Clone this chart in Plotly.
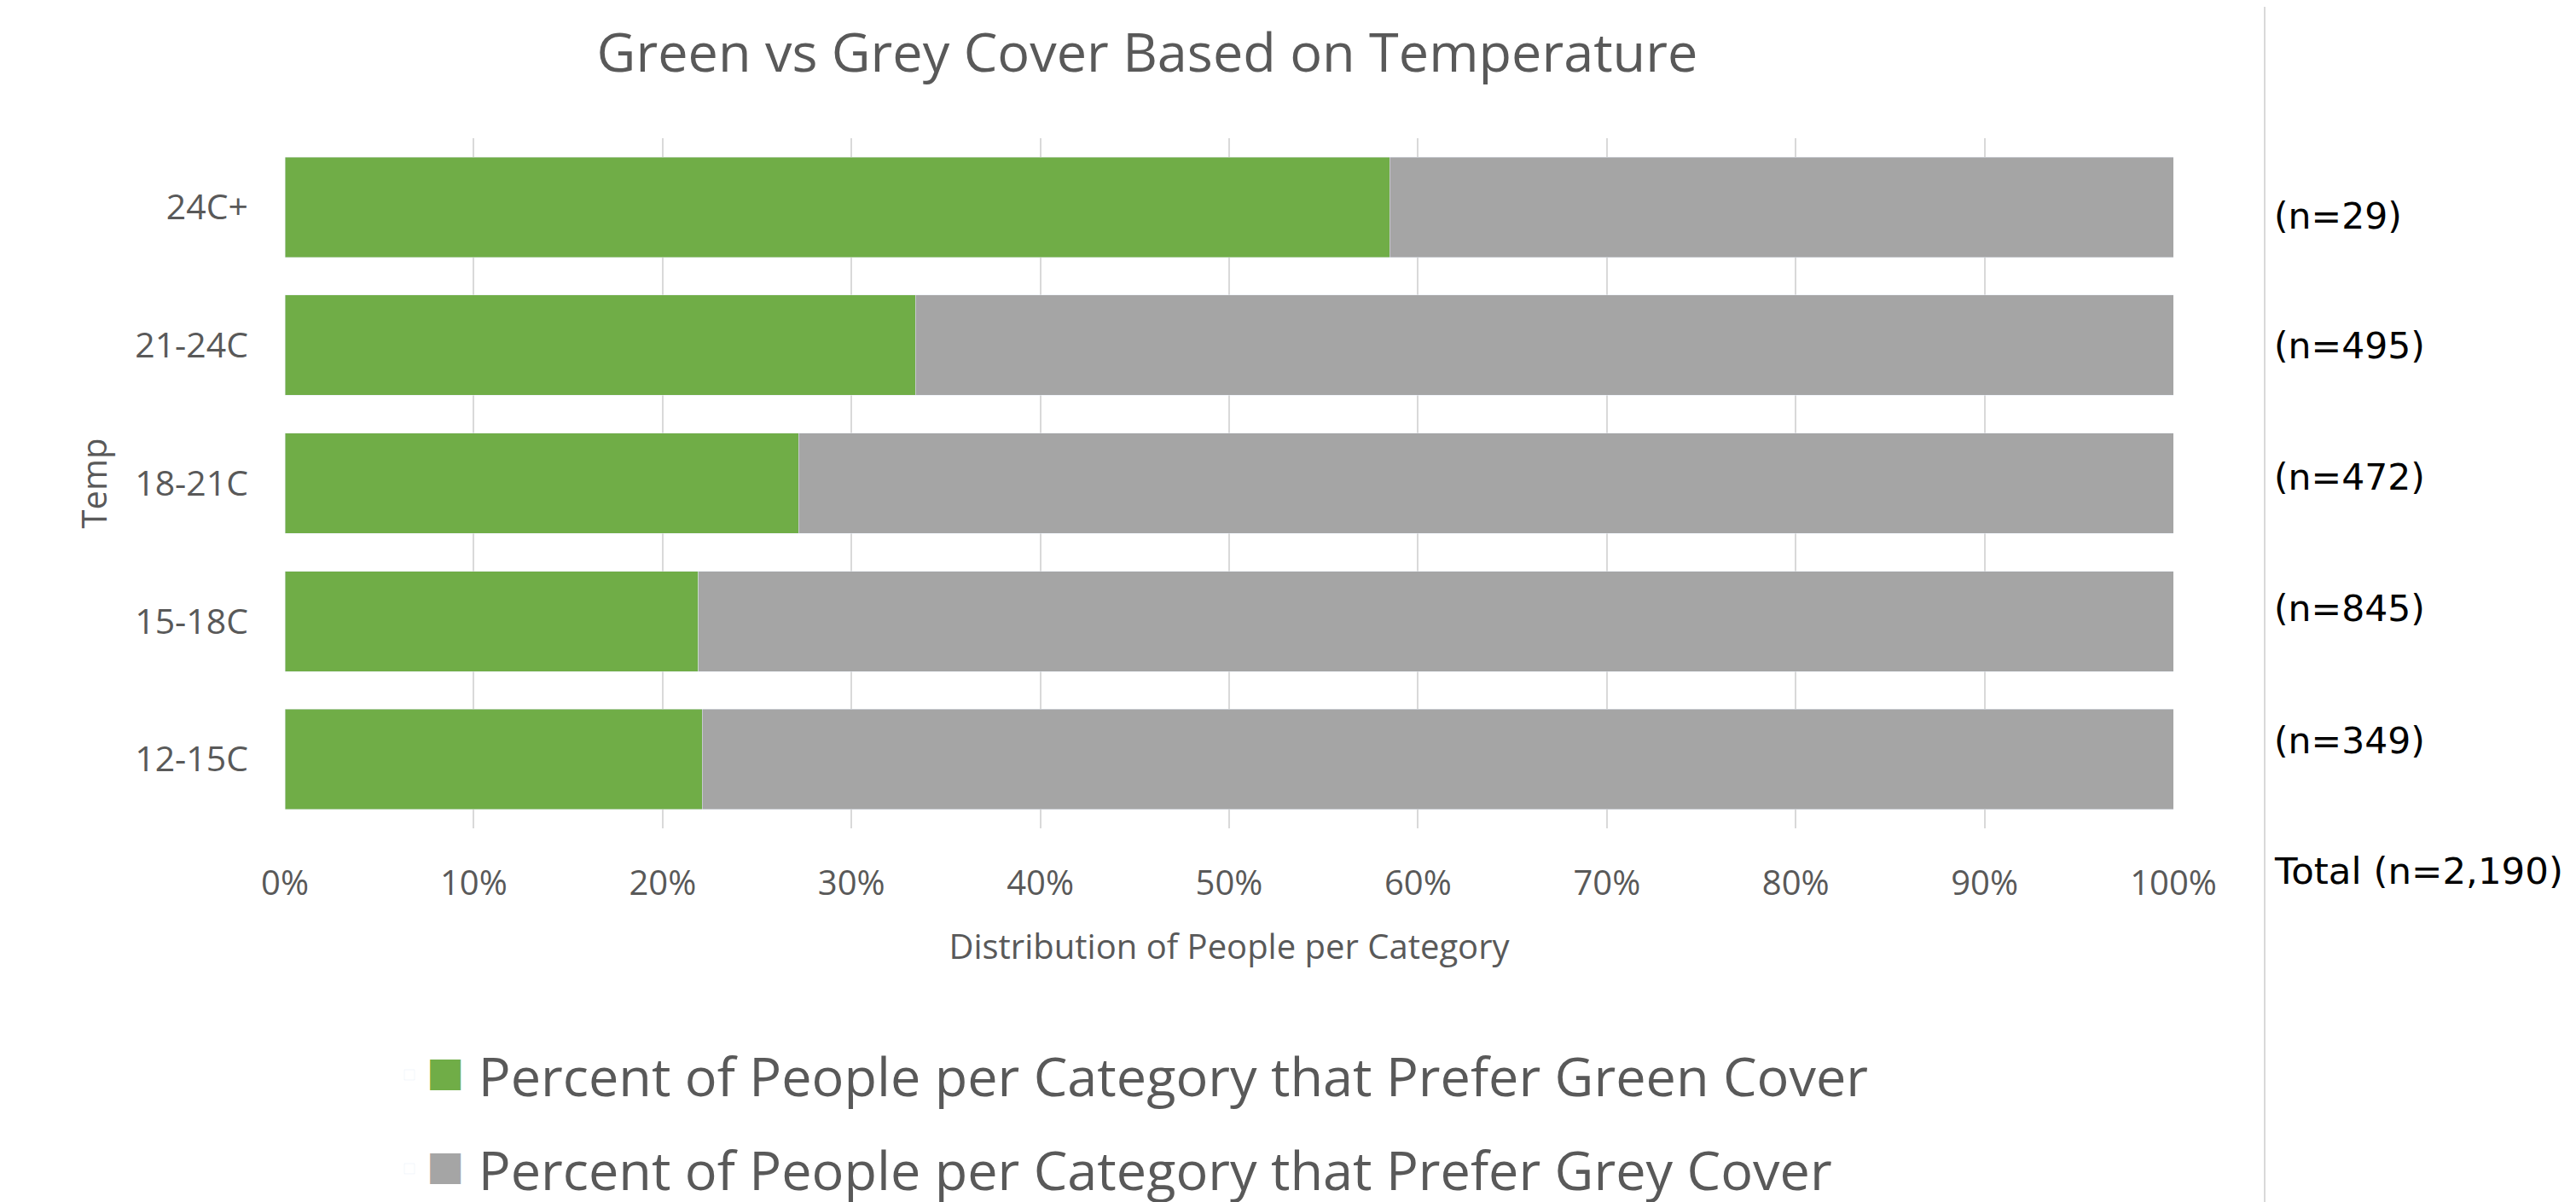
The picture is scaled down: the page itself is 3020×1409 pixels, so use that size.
import plotly.graph_objects as go

# ---- data ----
categories = ["12-15C", "15-18C", "18-21C", "21-24C", "24C+"]
green_pct = [22.1, 21.9, 27.2, 33.4, 58.5]
grey_pct = [77.9, 78.1, 72.8, 66.6, 41.5]
n_labels = ["(n=349)", "(n=845)", "(n=472)", "(n=495)", "(n=29)"]
total_label = "Total (n=2,190)"
green_name = "Percent of People per Category that Prefer Green Cover"
grey_name = "Percent of People per Category that Prefer Grey Cover"
x_tickvals = [0, 10, 20, 30, 40, 50, 60, 70, 80, 90, 100]
x_ticktext = ["0%", "10%", "20%", "30%", "40%", "50%", "60%", "70%", "80%", "90%", "100%"]

# page is offset by the 8px body margin; work in page px and convert
OFF = 8
PAGE_W, PAGE_H = 3020, 1409
W, H = PAGE_W - OFF, PAGE_H - OFF
L, R, T, B = 334 - OFF, 2548 - OFF, 162 - OFF, 971 - OFF  # plot area (fig px)
pw, ph = R - L, B - T

def px_x(x_page):
    return (x_page - OFF - L) / pw

def px_y(y_page):
    return (B - (y_page - OFF)) / ph

GREEN = "#70AD47"
GREY = "#A5A5A5"
TXT = "#595959"
FONT = "Open Sans"

fig = go.Figure()
fig.add_trace(go.Bar(
    y=categories, x=green_pct, orientation="h", name=green_name,
    marker=dict(color=GREEN), showlegend=False,
))
fig.add_trace(go.Bar(
    y=categories, x=grey_pct, orientation="h", name=grey_name,
    marker=dict(color=GREY), showlegend=False,
))
# legend entries with large square swatches
for nm, col, lg in [(green_name, GREEN, "legend"), (grey_name, GREY, "legend2")]:
    fig.add_trace(go.Bar(
        y=[None], x=[None], orientation="h",
        name=('<span style="font-family:DejaVu Sans;font-size:47px;'
              'baseline-shift:13px;color:%s">■</span> %s') % (col, nm),
        marker=dict(color="rgba(0,0,0,0)"), showlegend=True, legend=lg,
        hoverinfo="skip",
    ))

label_y_page = [868, 713, 559, 405, 253]
annotations = []
for lab, ypg in zip(n_labels, label_y_page):
    annotations.append(dict(
        text=lab, xref="paper", yref="paper", x=px_x(2664), y=px_y(ypg),
        xanchor="left", yanchor="middle", showarrow=False,
        font=dict(family="DejaVu Sans", size=42.5, color="#000000"),
    ))
annotations.append(dict(
    text=total_label, xref="paper", yref="paper", x=px_x(2664), y=px_y(1021),
    xanchor="left", yanchor="middle", showarrow=False,
    font=dict(family="DejaVu Sans", size=43.5, color="#000000"),
))

shapes = [
    # vertical separator
    dict(type="line", xref="paper", yref="paper",
         x0=px_x(2655), x1=px_x(2655), y0=px_y(PAGE_H + 20), y1=px_y(8),
         line=dict(color="#D9D9D9", width=2)),
]

fig.update_layout(
    width=W, height=H,
    margin=dict(l=L, r=W - R, t=T, b=H - B, pad=0, autoexpand=False),
    paper_bgcolor="white",
    plot_bgcolor="white",
    barmode="stack",
    bargap=0.274,
    showlegend=True,
    title=dict(
        text="Green vs Grey Cover Based on Temperature",
        x=px_x(1345), xref="paper", xanchor="center",
        y=1 - (62 - OFF) / H, yref="container", yanchor="middle",
        font=dict(family=FONT, size=63, color=TXT),
    ),
    xaxis=dict(
        range=[0, 100], tickmode="array", tickvals=x_tickvals, ticktext=x_ticktext,
        showgrid=True, gridcolor="#D9D9D9", gridwidth=2,
        zeroline=False, showline=False, ticks="",
        ticklabelstandoff=37,
        tickfont=dict(family=FONT, size=40, color=TXT),
        title=dict(text="Distribution of People per Category",
                   font=dict(family=FONT, size=40, color=TXT), standoff=35),
    ),
    yaxis=dict(
        categoryorder="array", categoryarray=categories,
        showgrid=False, zeroline=False, showline=False, ticks="",
        ticklabelstandoff=42,
        tickfont=dict(family=FONT, size=41, color=TXT),
        title=dict(text="Temp", font=dict(family=FONT, size=40, color=TXT), standoff=20),
    ),
    legend=dict(
        x=px_x(460), y=px_y(1260), xanchor="left", yanchor="middle",
        xref="paper", yref="paper", bgcolor="rgba(0,0,0,0)",
        font=dict(family=FONT, size=63, color=TXT),
    ),
    legend2=dict(
        x=px_x(460), y=px_y(1370), xanchor="left", yanchor="middle",
        xref="paper", yref="paper", bgcolor="rgba(0,0,0,0)",
        font=dict(family=FONT, size=63, color=TXT),
    ),
    annotations=annotations,
    shapes=shapes,
)

fig.write_html("out.html")
